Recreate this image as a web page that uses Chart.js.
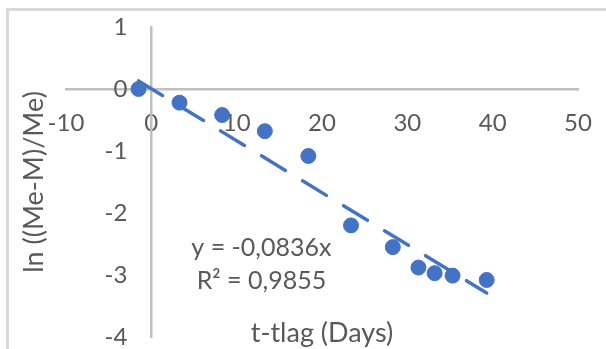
<!DOCTYPE html>
<html>
<head>
<meta charset="utf-8">
<script src="https://cdn.jsdelivr.net/npm/chart.js@4/dist/chart.umd.min.js"></script>
<style>
  html, body { margin: 0; padding: 0; background: #fff; }
  #wrap { width: 606px; height: 349px; position: relative; }
</style>
</head>
<body>
<div id="wrap"><canvas id="myChart"></canvas></div>
<script>
// t - tlag (days) and ln((Me-M)/Me)
const days = [-1.5, 3.3, 8.3, 13.3, 18.4, 23.4, 28.3, 31.3, 33.2, 35.3, 39.3]
const lnRatio = [0, -0.22, -0.42, -0.68, -1.08, -2.2, -2.55, -2.88, -2.97, -3.01, -3.08]

// linear trendline ends (y = -0,0836x)
const trendX = [-1.5, 39.3]
const trendY = [0.13, -3.29]

const xTitle = 't-tlag (Days)'
const yTitle = 'ln ((Me-M)/Me)'
const eqLines = ['y = -0,0836x', 'R² = 0,9855']

const textColor = '#595959'
const font = 'Lato'

const points = days.map((d, i) => ({x: d, y: lnRatio[i]}))
const trend = trendX.map((d, i) => ({x: d, y: trendY[i]}))

// frame, axis titles and trendline label
const extras = {
  id: 'extras',
  beforeDraw(chart) {
    const ctx = chart.ctx
    ctx.save()
    ctx.strokeStyle = '#d9d9d9'
    ctx.lineWidth = 3
    ctx.strokeRect(7.5, 9.5, 700, 500)
    ctx.restore()
  },
  afterDraw(chart) {
    const {ctx, chartArea: a, scales} = chart
    ctx.save()
    ctx.fillStyle = textColor
    ctx.textAlign = 'center'
    ctx.textBaseline = 'middle'
    ctx.font = '27px ' + font
    ctx.fillText(xTitle, (a.left + a.right) / 2, 333)
    ctx.save()
    ctx.translate(34, (a.top + a.bottom) / 2)
    ctx.rotate(-Math.PI / 2)
    ctx.fillText(yTitle, 0, 0)
    ctx.restore()
    ctx.font = '25px ' + font
    const ex = scales.x.getPixelForValue(12.9)
    const ey = scales.y.getPixelForValue(-2.56)
    eqLines.forEach((t, i) => ctx.fillText(t, ex, ey + i * 33))
    ctx.restore()
  }
}

const data = {
  datasets: [
    {
      type: 'scatter',
      data: points,
      backgroundColor: '#4472c4',
      borderColor: '#4472c4',
      pointRadius: 7.5,
      pointHoverRadius: 7.5,
      order: 1
    },
    {
      type: 'line',
      data: trend,
      borderColor: '#4472c4',
      borderWidth: 3.5,
      borderDash: [28, 20],
      borderCapStyle: 'round',
      pointRadius: 0,
      fill: false,
      order: 2
    }
  ]
}

const axisBorder = {display: true, color: '#bfbfbf', width: 2.5}

// axes sit on the zero lines, so they take no room in the layout
const noRoom = s => {
  s.width = s.isHorizontal() ? s.width : 0
  s.height = s.isHorizontal() ? 0 : s.height
  s.paddingTop = s.paddingBottom = s.paddingLeft = s.paddingRight = 0
}

const config = {
  type: 'scatter',
  data,
  options: {
    responsive: true,
    maintainAspectRatio: false,
    animation: false,
    layout: {
      padding: {left: 66, right: 28, top: 27, bottom: 12}
    },
    scales: {
      x: {
        type: 'linear',
        min: -10,
        max: 50,
        position: {y: 0},
        grid: {color: 'rgba(0,0,0,0)', drawTicks: false},
        border: axisBorder,
        ticks: {
          stepSize: 10,
          padding: 20,
          color: textColor,
          font: {family: font, size: 24}
        },
        afterFit: noRoom
      },
      y: {
        type: 'linear',
        min: -4,
        max: 1,
        position: {x: 0},
        grid: {color: 'rgba(0,0,0,0)', drawTicks: false},
        border: axisBorder,
        ticks: {
          stepSize: 1,
          color: textColor,
          font: {family: font, size: 24},
          callback: v => v + '\u2002\u2002'
        },
        afterFit: noRoom
      }
    },
    plugins: {
      legend: {display: false},
      tooltip: {enabled: false}
    }
  },
  plugins: [extras]
}

const myChart = new Chart(document.getElementById('myChart'), config)
</script>
</body>
</html>
